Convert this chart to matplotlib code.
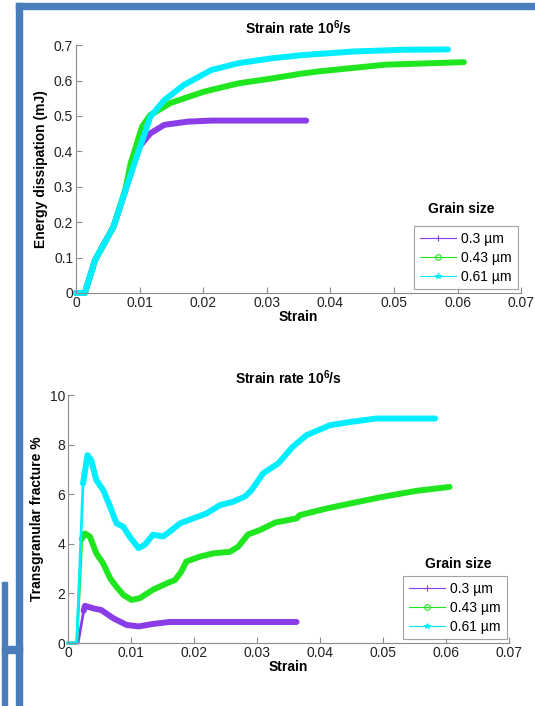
import matplotlib
matplotlib.use('Agg')
import matplotlib.pyplot as plt
from matplotlib.lines import Line2D
from matplotlib.patches import Rectangle
from matplotlib.ticker import FuncFormatter

plt.rcParams['font.family'] = ['Liberation Sans', 'DejaVu Sans']
plt.rcParams['mathtext.fontset'] = 'custom'
plt.rcParams['mathtext.bf'] = 'Liberation Sans:bold'
plt.rcParams['mathtext.rm'] = 'Liberation Sans'

grain_labels = ['0.3 \u00b5m', '0.43 \u00b5m', '0.61 \u00b5m']
colors = ['#8a3de6', '#1fe61f', '#00eeff']
markers = ['+', 'o', '*']

# energy dissipation (mJ) vs strain
e_x03 = [0, 0.0014, 0.003, 0.0059, 0.0078, 0.0090, 0.0099, 0.0117, 0.0139, 0.0176, 0.0213, 0.030, 0.0362]
e_y03 = [0, 0, 0.093, 0.187, 0.291, 0.36, 0.412, 0.451, 0.475, 0.484, 0.487, 0.487, 0.487]
e_x043 = [0, 0.0014, 0.003, 0.0059, 0.0078, 0.0086, 0.0104, 0.0117, 0.0149, 0.0202, 0.0255,
          0.0308, 0.0356, 0.0382, 0.0487, 0.061]
e_y043 = [0, 0, 0.093, 0.187, 0.295, 0.366, 0.47, 0.503, 0.537, 0.569, 0.592,
          0.606, 0.62, 0.626, 0.645, 0.652]
e_x061 = [0, 0.0014, 0.003, 0.0059, 0.0078, 0.0099, 0.0117, 0.0139, 0.017, 0.0213, 0.0255,
          0.0308, 0.0356, 0.0435, 0.0514, 0.0585]
e_y061 = [0, 0, 0.093, 0.187, 0.291, 0.404, 0.498, 0.545, 0.588, 0.630, 0.649,
          0.663, 0.672, 0.682, 0.687, 0.688]

# transgranular fracture % vs strain
t_x03 = [0, 0.0016, 0.0025, 0.0027, 0.004, 0.0053, 0.0072, 0.0093, 0.0112, 0.0135, 0.0162,
         0.025, 0.0363]
t_y03 = [0, 0, 1.3, 1.5, 1.4, 1.33, 1.0, 0.73, 0.67, 0.77, 0.85, 0.85, 0.85]
t_x043 = [0, 0.0014, 0.0022, 0.0027, 0.0035, 0.0045, 0.0056, 0.0067, 0.0077, 0.0088, 0.0101,
          0.0114, 0.0135, 0.0157, 0.017, 0.018, 0.0188, 0.021, 0.0231, 0.0257, 0.027,
          0.0286, 0.0305, 0.0329, 0.0363, 0.0368, 0.0411, 0.0448, 0.05, 0.0553, 0.0606]
t_y043 = [0, 0, 4.2, 4.42, 4.29, 3.62, 3.21, 2.61, 2.27, 1.94, 1.74,
          1.81, 2.15, 2.41, 2.54, 2.88, 3.29, 3.49, 3.62, 3.68, 3.88,
          4.38, 4.56, 4.86, 5.03, 5.16, 5.43, 5.63, 5.90, 6.14, 6.30]
t_x061 = [0, 0.0014, 0.0024, 0.0031, 0.0037, 0.0045, 0.0056, 0.0067, 0.0077, 0.0088, 0.0098,
          0.0112, 0.0122, 0.0135, 0.0151, 0.0162, 0.0178, 0.0199, 0.022, 0.0241, 0.0262,
          0.0281, 0.0291, 0.031, 0.0334, 0.0357, 0.0379, 0.0416, 0.0448, 0.049, 0.0583]
t_y061 = [0, 0, 6.44, 7.58, 7.38, 6.58, 6.17, 5.50, 4.83, 4.69, 4.29,
          3.83, 3.96, 4.37, 4.30, 4.50, 4.83, 5.03, 5.23, 5.56, 5.70,
          5.91, 6.15, 6.85, 7.25, 7.92, 8.39, 8.79, 8.92, 9.06, 9.06]

x_ticks = [0, 0.01, 0.02, 0.03, 0.04, 0.05, 0.06, 0.07]
e_ticks = [0, 0.1, 0.2, 0.3, 0.4, 0.5, 0.6, 0.7]
t_ticks = [0, 2, 4, 6, 8, 10]


def style_axes(ax, yticks, ylabel, legend_pos):
    for s in ['top', 'right']:
        ax.spines[s].set_visible(False)
    for s in ['left', 'bottom']:
        ax.spines[s].set_color('#8c8c8c')
        ax.spines[s].set_linewidth(0.8)
    ax.set_xlim(0, 0.07)
    ax.set_ylim(yticks[0], yticks[-1])
    ax.set_xticks(x_ticks)
    ax.set_yticks(yticks)
    fmt = FuncFormatter(lambda v, p: '%g' % round(v, 4))
    ax.xaxis.set_major_formatter(fmt)
    ax.yaxis.set_major_formatter(fmt)
    ax.tick_params(direction='in', length=4, width=0.8, color='#8c8c8c',
                   labelsize=10, labelcolor='#222222', pad=2)
    ax.set_xlabel('Strain', fontsize=10, fontweight='bold', labelpad=0)
    ax.set_ylabel(ylabel, fontsize=10, fontweight='bold', labelpad=4)
    ax.set_title(r'Strain rate 10$^{\bf 6}$/s', fontsize=10, fontweight='bold', pad=8)
    handles = [Line2D([], [], color=c, lw=0.8, marker=m, ms=4,
                      mfc='none' if m == 'o' else c, mew=0.8)
               for c, m in zip(colors, markers)]
    leg = ax.legend(handles, grain_labels, loc='lower right', bbox_to_anchor=legend_pos,
                    fontsize=10, frameon=True, fancybox=False, handlelength=2.6,
                    borderpad=0.4, labelspacing=0.35, handletextpad=0.4,
                    borderaxespad=0)
    leg.get_frame().set_edgecolor('#8c8c8c')
    leg.get_frame().set_linewidth(0.8)
    return leg


fig = plt.figure(figsize=(5.35, 7.06), dpi=100)

ax1 = fig.add_axes([0.142, 0.585, 0.832, 0.351])
for xs, ys, c in zip([e_x03, e_x043, e_x061], [e_y03, e_y043, e_y061], colors):
    ax1.plot(xs, ys, color=c, lw=4.3, solid_capstyle='round', solid_joinstyle='round',
             clip_on=False)
style_axes(ax1, e_ticks, 'Energy dissipation (mJ)', (0.992, 0.015))
ax1.text(0.865, 0.31, 'Grain size', transform=ax1.transAxes, ha='center', va='bottom',
         fontsize=10, fontweight='bold')

ax2 = fig.add_axes([0.127, 0.0892, 0.824, 0.351])
for xs, ys, c in zip([t_x03, t_x043, t_x061], [t_y03, t_y043, t_y061], colors):
    # steep initial rise is sparse in the original, so draw it thinner
    ax2.plot(xs[:3], ys[:3], color=c, lw=2, clip_on=False)
    ax2.plot(xs[2:], ys[2:], color=c, lw=4.3, solid_capstyle='round',
             solid_joinstyle='round', clip_on=False)
style_axes(ax2, t_ticks, 'Transgranular fracture %', (0.995, 0.015))
ax2.text(0.885, 0.29, 'Grain size', transform=ax2.transAxes, ha='center', va='bottom',
         fontsize=10, fontweight='bold')

# slide frame decoration
W, H = 535.0, 706.0
frame = '#4a7ebb'
for (x0, y0, w, h) in [(16, 3, 519, 6), (16, 3, 6, 703), (2, 582, 5, 124), (2, 646, 20, 7)]:
    fig.patches.append(Rectangle((x0 / W, 1 - (y0 + h) / H), w / W, h / H,
                                 transform=fig.transFigure, color=frame, zorder=10))

fig.savefig('out.png', dpi=100)
